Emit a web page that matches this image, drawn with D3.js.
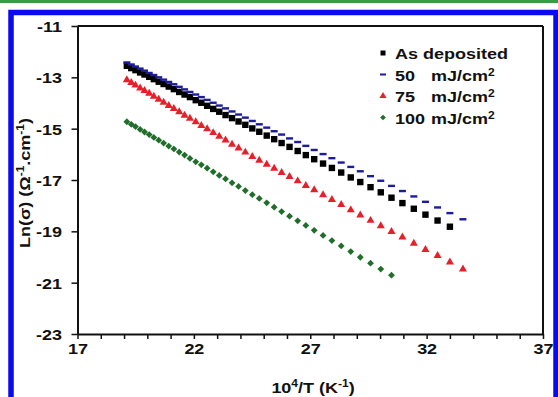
<!DOCTYPE html>
<html>
<head>
<meta charset="utf-8">
<script src="https://cdn.jsdelivr.net/npm/d3@7"></script>
<style>
  body { margin: 0; background: #fff; }
  svg { display: block; font-family: "Liberation Sans", Arial, sans-serif; }
</style>
</head>
<body>
<svg id="chart" width="558" height="397"></svg>
<script>
// 10^4/T positions (shared grid)
var xVals = [19.12, 19.31, 19.49, 19.69, 19.88, 20.08, 20.28, 20.49, 20.70, 20.92,
             21.14, 21.37, 21.60, 21.83, 22.08, 22.32, 22.57, 22.83, 23.09, 23.36,
             23.64, 23.92, 24.21, 24.51, 24.81, 25.13, 25.45, 25.77, 26.11, 26.46,
             26.81, 27.17, 27.55, 27.93, 28.33, 28.74, 29.15, 29.59, 30.03, 30.49,
             30.96, 31.45, 31.95, 32.47, 33.00, 33.56];

var asDeposited = [-12.55, -12.64, -12.72, -12.81, -12.89, -12.98, -13.07, -13.17, -13.26, -13.36,
                   -13.46, -13.57, -13.67, -13.77, -13.89, -13.99, -14.11, -14.23, -14.34, -14.47,
                   -14.59, -14.72, -14.85, -14.99, -15.12, -15.27, -15.41, -15.56, -15.71, -15.87,
                   -16.03, -16.19, -16.36, -16.53, -16.71, -16.90, -17.08, -17.28, -17.48, -17.69,
                   -17.90, -18.12, -18.35, -18.58, -18.82];

var mj50 = [-12.42, -12.50, -12.58, -12.66, -12.74, -12.83, -12.91, -13.00, -13.09, -13.18,
            -13.27, -13.37, -13.47, -13.57, -13.67, -13.77, -13.88, -13.99, -14.10, -14.21,
            -14.33, -14.45, -14.57, -14.70, -14.83, -14.96, -15.10, -15.23, -15.38, -15.52,
            -15.67, -15.83, -15.99, -16.15, -16.32, -16.49, -16.66, -16.85, -17.03, -17.23,
            -17.43, -17.64, -17.85, -18.07, -18.29, -18.53];

var mj75 = [-13.10, -13.21, -13.31, -13.42, -13.52, -13.63, -13.74, -13.86, -13.98, -14.10,
            -14.22, -14.35, -14.48, -14.60, -14.74, -14.88, -15.01, -15.16, -15.30, -15.45,
            -15.61, -15.76, -15.92, -16.09, -16.24, -16.39, -16.55, -16.71, -16.87, -17.04,
            -17.22, -17.39, -17.58, -17.77, -17.96, -18.17, -18.37, -18.58, -18.79, -19.01,
            -19.23, -19.47, -19.71, -19.95, -20.20, -20.47];

var mj100 = [-14.73, -14.83, -14.92, -15.03, -15.13, -15.23, -15.34, -15.45, -15.56, -15.68,
             -15.79, -15.91, -16.03, -16.16, -16.29, -16.41, -16.54, -16.68, -16.82, -16.96,
             -17.11, -17.25, -17.41, -17.57, -17.72, -17.89, -18.06, -18.23, -18.41, -18.59,
             -18.77, -18.96, -19.16, -19.36, -19.57, -19.79, -20.01, -20.24, -20.47, -20.71];

var xTicks = [17, 22, 27, 32, 37];
var yTicks = [-11, -13, -15, -17, -19, -21, -23];
var legendNums = ["", "50", "75", "100"];

var svg = d3.select("#chart");
var stretch = 1.2;   // the figure's text is a bit wider than plain Arial

// page decoration: green bar + blue frame
svg.append("rect").attr("x", 0).attr("y", 0).attr("width", 558).attr("height", 3).attr("fill", "#3c9a44");
svg.append("rect").attr("x", 11).attr("y", 12.5).attr("width", 545).attr("height", 400)
   .attr("fill", "none").attr("stroke", "#0a0aee").attr("stroke-width", 5.5);

var x = d3.scaleLinear().domain([17, 37]).range([77.5, 543]);
var y = d3.scaleLinear().domain([-23, -11]).range([334, 26]);

// x axis with unit minor ticks
var xAxis = svg.append("g")
    .attr("transform", "translate(0," + y(-23) + ")")
    .call(d3.axisBottom(x).tickValues(d3.range(17, 38, 1)).tickSize(5).tickSizeOuter(0)
      .tickFormat(function(d) { return xTicks.indexOf(d) >= 0 ? String(d) : ""; }));

var yAxis = svg.append("g")
    .attr("transform", "translate(" + x(17) + ",0)")
    .call(d3.axisLeft(y).tickValues(yTicks).tickSize(6).tickSizeOuter(0)
      .tickFormat(function(d) { return String(d); }));

[xAxis, yAxis].forEach(function(a) {
  a.select(".domain").attr("stroke", "#111").attr("stroke-width", 2);
  a.selectAll(".tick line").attr("stroke", "#111").attr("stroke-width", 1.5);
  a.selectAll(".tick text").attr("fill", "#111").style("font-size", "15px").style("font-weight", "bold")
   .attr("transform", "scale(" + stretch + ",1)");
});
xAxis.selectAll(".tick text").attr("y", 20).attr("dy", 0);
yAxis.selectAll(".tick text").attr("x", -13).attr("dy", "0.36em");

// top and right border of the plot
svg.append("line").attr("x1", x(17)).attr("x2", x(37)).attr("y1", y(-11)).attr("y2", y(-11))
   .attr("stroke", "#111").attr("stroke-width", 2);
svg.append("line").attr("x1", x(37)).attr("x2", x(37)).attr("y1", y(-11)).attr("y2", y(-23))
   .attr("stroke", "#111").attr("stroke-width", 2);

// axis titles
var xt = svg.append("text").attr("transform", "translate(313,393) scale(" + stretch + ",1)")
   .attr("text-anchor", "middle")
   .style("font-size", "15px").style("font-weight", "bold").attr("fill", "#111");
xt.append("tspan").text("10");
xt.append("tspan").text("4").attr("dy", -6).style("font-size", "10px");
xt.append("tspan").text("/T (K").attr("dy", 6);
xt.append("tspan").text("-1").attr("dy", -6).style("font-size", "10px");
xt.append("tspan").text(")").attr("dy", 6);

var yt = svg.append("text").attr("transform", "translate(30,183) rotate(-90) scale(" + stretch + ",1)")
   .attr("text-anchor", "middle")
   .style("font-size", "15px").style("font-weight", "bold").attr("fill", "#111");
yt.append("tspan").text("Ln(σ) (Ω");
yt.append("tspan").text("-1").attr("dy", -6).style("font-size", "10px");
yt.append("tspan").text(".cm").attr("dy", 6);
yt.append("tspan").text("-1").attr("dy", -6).style("font-size", "10px");
yt.append("tspan").text(")").attr("dy", 6);

function pts(ys) { return ys.map(function(v, i) { return [xVals[i], v]; }); }

// As deposited: black squares
svg.append("g").selectAll("rect").data(pts(asDeposited)).enter().append("rect")
   .attr("x", function(d) { return x(d[0]) - 3.2; })
   .attr("y", function(d) { return y(d[1]) - 3.2; })
   .attr("width", 6.4).attr("height", 6.4).attr("fill", "#000");

// 50 mJ/cm2: blue dashes
svg.append("g").selectAll("rect").data(pts(mj50)).enter().append("rect")
   .attr("x", function(d) { return x(d[0]) - 3.5; })
   .attr("y", function(d) { return y(d[1]) - 1.2; })
   .attr("width", 7).attr("height", 2.4).attr("fill", "#1c1c9c");

// 75 mJ/cm2: red triangles
svg.append("g").selectAll("path").data(pts(mj75)).enter().append("path")
   .attr("d", d3.symbol().type(d3.symbolTriangle).size(28))
   .attr("transform", function(d) { return "translate(" + x(d[0]) + "," + y(d[1]) + ")"; })
   .attr("fill", "#e5202a");

// 100 mJ/cm2: green diamonds
svg.append("g").selectAll("rect").data(pts(mj100)).enter().append("rect")
   .attr("x", -2.4).attr("y", -2.4).attr("width", 4.8).attr("height", 4.8)
   .attr("transform", function(d) { return "translate(" + x(d[0]) + "," + y(d[1]) + ") rotate(45)"; })
   .attr("fill", "#1f6e2a");

// legend
var lg = svg.append("g").attr("transform", "translate(383,53)");
var rowH = 21.5;
lg.append("rect").attr("x", -2.5).attr("y", -2.5).attr("width", 5).attr("height", 5).attr("fill", "#000");
lg.append("rect").attr("x", -3).attr("y", rowH - 1).attr("width", 6).attr("height", 2).attr("fill", "#1c1c9c");
lg.append("path").attr("d", d3.symbol().type(d3.symbolTriangle).size(22))
  .attr("transform", "translate(0," + (2 * rowH) + ")").attr("fill", "#e5202a");
lg.append("rect").attr("x", -2).attr("y", -2).attr("width", 4).attr("height", 4)
  .attr("transform", "translate(0," + (3 * rowH) + ") rotate(45)").attr("fill", "#1f6e2a");

function legendText(tx, ty) {
  return lg.append("text").attr("transform", "translate(" + tx + "," + ty + ") scale(" + stretch + ",1)")
    .style("font-size", "15px").style("font-weight", "bold").attr("fill", "#111");
}
legendText(12, 6).text("As deposited");
legendNums.forEach(function(n, i) {
  if (!n) return;
  legendText(12, i * rowH + 6).text(n);
  var u = legendText(48, i * rowH + 6);
  u.append("tspan").text("mJ/cm");
  u.append("tspan").text("2").attr("dy", -5).style("font-size", "10px");
});
</script>
</body>
</html>
